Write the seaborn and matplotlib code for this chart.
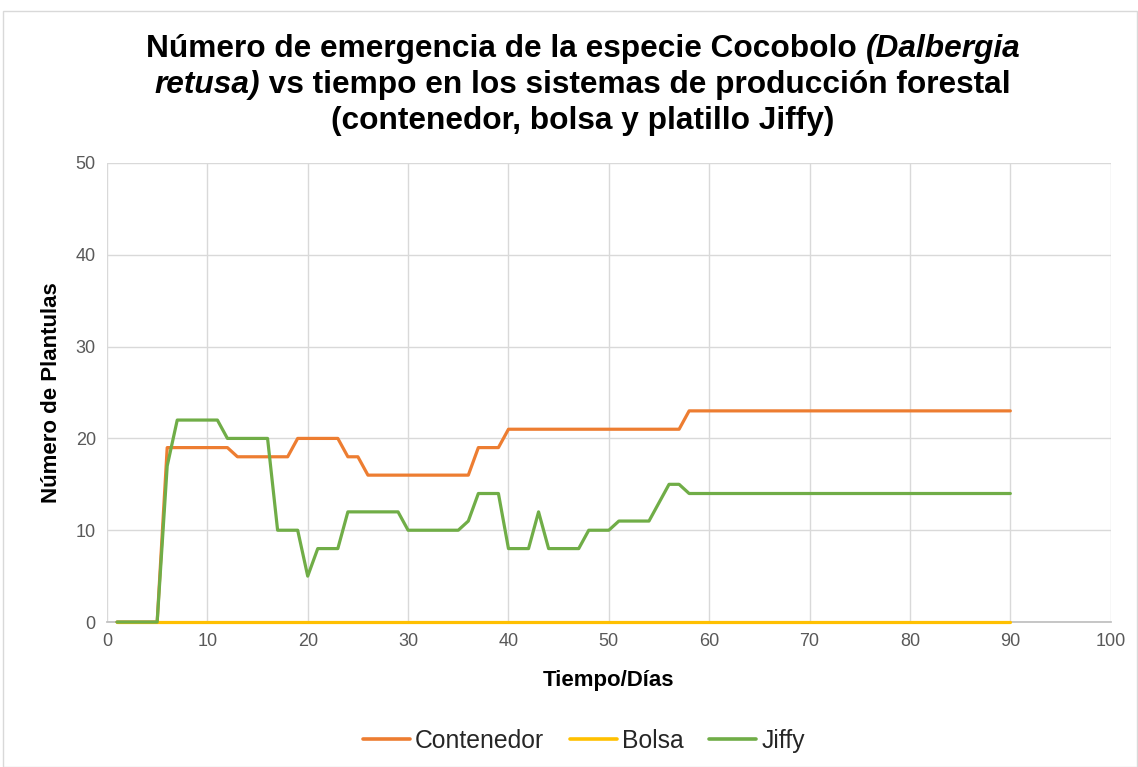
import numpy as np
import pandas as pd
import matplotlib
matplotlib.use("Agg")
import matplotlib.pyplot as plt
import seaborn as sns

dias = list(range(1, 91))

contenedor = ([0] * 5 + [19] * 7 + [18] * 6 + [20] * 5 + [18] * 2 + [16] * 11
              + [19] * 3 + [21] * 18 + [23] * 33)
bolsa = [0] * 90
jiffy = ([0] * 5 + [17] + [22] * 5 + [20] * 5 + [10] * 3 + [5] + [8] * 3 + [12] * 6
         + [10] * 6 + [11] + [14] * 3 + [8] * 3 + [12] + [8] * 4 + [10] * 3 + [11] * 4
         + [13] + [15] * 2 + [14] * 33)

series = ["Contenedor", "Bolsa", "Jiffy"]
colores = ["#ED7D31", "#FFC000", "#70AD47"]

df = pd.DataFrame({
    "dia": dias * 3,
    "valor": contenedor + bolsa + jiffy,
    "serie": [s for s in series for _ in dias],
})

sns.set_theme(style="white")
plt.rcParams["font.family"] = ["Liberation Sans", "DejaVu Sans"]

fig = plt.figure(figsize=(11.38, 7.67), dpi=100)
ax = fig.add_axes([0.094, 0.189, 0.882, 0.5985])

sns.lineplot(data=df, x="dia", y="valor", hue="serie", palette=colores,
             hue_order=series, linewidth=2.3, ax=ax, legend=True)
for line in ax.get_lines():
    line.set_clip_on(False)
    line.set_zorder(3)

ax.set_xlim(0, 100)
ax.set_ylim(0, 50)
ax.set_xticks(range(0, 101, 10))
ax.set_yticks(range(0, 51, 10))
ax.grid(True, color="#D9D9D9", linewidth=1)
ax.set_axisbelow(True)
for s in ["top", "right", "left"]:
    ax.spines[s].set_visible(False)
ax.spines["bottom"].set_color("#BFBFBF")
ax.spines["bottom"].set_zorder(1)
ax.tick_params(axis="both", colors="#595959", labelsize=13, length=0, pad=8)
ax.set_xlabel("Tiempo/Días", fontsize=16, fontweight="bold", color="black", labelpad=14)
ax.set_ylabel("Número de Plantulas", fontsize=16, fontweight="bold", color="black", labelpad=10)

leg = ax.legend(loc="center", bbox_to_anchor=(0.513, 0.034), bbox_transform=fig.transFigure,
                ncol=3, frameon=False, fontsize=17.8, handlelength=1.9, handletextpad=0.2,
                columnspacing=1.05)
for line in leg.get_lines():
    line.set_linewidth(2.6)

# titulo con partes en cursiva
titulo = [
    [("Número de emergencia de la especie Cocobolo ", "normal"), ("(Dalbergia", "italic")],
    [("retusa)", "italic"), (" vs tiempo en los sistemas de producción forestal", "normal")],
    [("(contenedor, bolsa y platillo Jiffy)", "normal")],
]
renderer = fig.canvas.get_renderer()
y_lineas = [0.936, 0.889, 0.842]
for partes, yl in zip(titulo, y_lineas):
    textos = []
    for txt, estilo in partes:
        t = fig.text(0, yl, txt, fontsize=22.8, fontweight="bold", style=estilo,
                     va="center", ha="left", color="black")
        textos.append(t)
    anchos = [t.get_window_extent(renderer).width for t in textos]
    x = (fig.bbox.width - sum(anchos)) / 2 + 14
    for t, w in zip(textos, anchos):
        t.set_x(x / fig.bbox.width)
        x += w

fig.patches.append(plt.Rectangle((0.003, 0.0), 0.996, 0.986, transform=fig.transFigure,
                                 fill=False, edgecolor="#D9D9D9", linewidth=1))

fig.savefig("out.png", dpi=100)
